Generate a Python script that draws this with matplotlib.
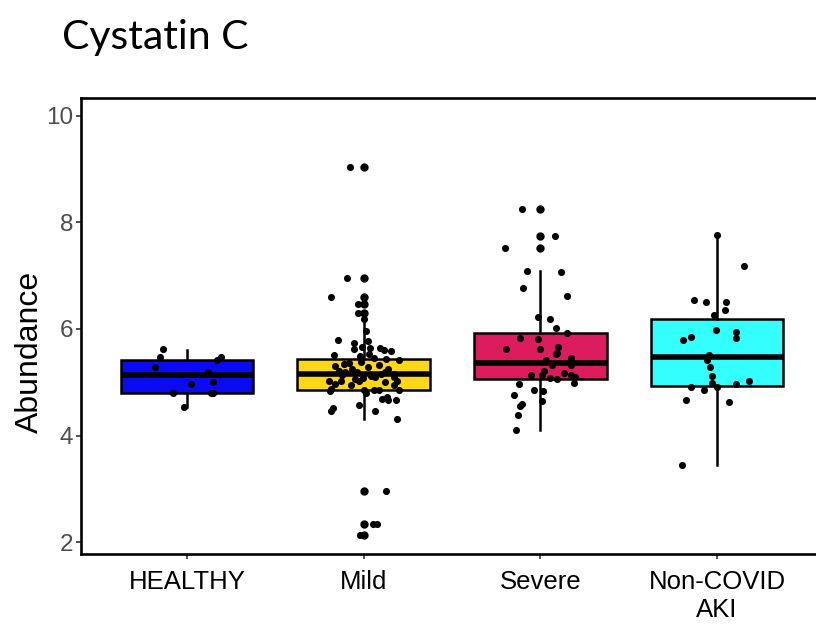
import matplotlib
matplotlib.use("Agg")
import matplotlib.pyplot as plt

# ---- data -------------------------------------------------------------
groups = ["HEALTHY", "Mild", "Severe", "Non-COVID\nAKI"]
colors = ["#0A0AF5", "#FFD814", "#DC1C5E", "#33FFFF"]

# box summaries: lower hinge, median, upper hinge, whisker ends
q1 = [4.79, 4.86, 5.06, 4.93]
median = [5.13, 5.16, 5.36, 5.47]
q3 = [5.41, 5.44, 5.93, 6.19]
whisker_low = [4.53, 4.31, 4.11, 3.44]
whisker_high = [5.61, 6.19, 7.09, 7.76]
outliers = [
    [],
    [9.04, 6.95, 6.60, 6.46, 6.29, 2.97, 2.35, 2.14],
    [8.24, 7.74, 7.51],
    [],
]

# individual samples per group
healthy_vals = [5.62, 5.47, 5.28, 5.47, 5.41, 5.20, 5.00, 4.96, 4.79, 4.79, 4.80, 4.53]
mild_vals = [9.04, 6.95, 6.60, 6.46, 6.29, 6.19, 5.97, 5.80, 5.78, 5.74, 5.63, 5.66,
             5.64, 5.64, 5.61, 5.58, 5.52, 5.49, 5.53, 5.44, 5.42, 5.38, 5.37, 5.31,
             5.33, 5.25, 5.28, 5.22, 5.19, 5.19, 5.19, 5.16, 5.13, 5.06, 5.09, 5.09,
             5.03, 5.02, 5.02, 5.00, 4.97, 4.94, 5.03, 4.94, 4.88, 4.83, 4.86, 4.79,
             4.86, 4.86, 4.85, 4.69, 4.73, 4.67, 4.66, 4.58, 4.46, 4.52, 4.47, 4.31,
             5.12, 5.35, 5.24, 5.08, 5.45, 5.15,
             2.97, 2.35, 2.34, 2.14]
severe_vals = [8.24, 7.74, 7.51, 7.09, 7.07, 6.77, 6.61, 6.22, 6.18, 6.02, 5.92, 5.83,
               5.81, 5.62, 5.62, 5.67, 5.55, 5.53, 5.41, 5.46, 5.33, 5.32, 5.22, 5.14,
               5.13, 5.08, 5.06, 5.18, 5.14, 5.09, 4.99, 4.96, 4.86, 4.84, 4.76, 4.60,
               4.56, 4.64, 4.39, 4.11]
noncovid_vals = [7.76, 7.18, 6.55, 6.50, 6.50, 6.35, 6.27, 5.98, 5.94, 5.83, 5.84, 5.80,
                 5.52, 5.41, 5.28, 5.11, 4.99, 5.03, 4.97, 4.91, 4.86, 4.91, 4.66, 4.63,
                 3.44]
values = [healthy_vals, mild_vals, severe_vals, noncovid_vals]

# horizontal jitter of each sample (category units)
healthy_jit = [-0.137, -0.153, -0.181, 0.192, 0.168, 0.119, 0.147, 0.021, -0.079, 0.147,
               0.136, -0.017]
mild_jit = [-0.075, -0.094, -0.184, -0.032, -0.032, 0.0, 0.015, -0.145, 0.023, -0.053,
            -0.053, -0.011, 0.034, 0.090, 0.113, 0.156, -0.169, -0.019, 0.028, 0.127,
            0.202, -0.013, -0.085, -0.160, 0.089, -0.066, 0.023, -0.141, -0.103, -0.037,
            0.119, 0.169, -0.122, -0.047, 0.062, 0.169, 0.189, -0.198, -0.126, 0.119,
            -0.160, -0.069, -0.028, 0.169, -0.184, -0.188, 0.198, 0.015, 0.060, 0.085,
            0.004, 0.104, 0.132, 0.136, 0.183, -0.028, 0.064, -0.175, -0.186, 0.186,
            0.040, -0.110, 0.140, -0.005, 0.060, 0.100,
            0.128, 0.053, 0.076, -0.023]
severe_jit = [-0.106, 0.081, -0.200, -0.078, 0.116, -0.097, 0.149, -0.016, 0.054, 0.088,
              0.149, -0.116, -0.016, -0.193, 0.0, 0.098, 0.092, 0.086, 0.031, 0.176,
              0.066, 0.172, 0.020, -0.052, 0.012, 0.054, 0.096, 0.134, 0.176, 0.199,
              0.191, -0.119, -0.035, 0.014, -0.148, -0.106, -0.115, 0.007, -0.129, -0.140]
noncovid_jit = [0.0, 0.154, -0.128, -0.064, 0.049, 0.045, -0.015, -0.006, 0.106, 0.106,
                -0.147, -0.190, -0.047, -0.055, -0.041, -0.028, -0.028, 0.182, 0.110,
                -0.148, -0.072, 0.0, -0.173, 0.066, -0.200]
jitter = [healthy_jit, mild_jit, severe_jit, noncovid_jit]

# ---- figure -----------------------------------------------------------
fig = plt.figure(figsize=(8.16, 6.26), dpi=100)
ax = fig.add_axes([81 / 816, 72 / 626, 742 / 816, 456 / 626])

positions = list(range(1, len(groups) + 1))
stats = [
    dict(med=m, q1=a, q3=b, whislo=lo, whishi=hi, fliers=f)
    for m, a, b, lo, hi, f in zip(median, q1, q3, whisker_low, whisker_high, outliers)
]
bp = ax.bxp(
    stats, positions=positions, widths=0.75, patch_artist=True, showcaps=False,
    boxprops=dict(linewidth=1.8, edgecolor="black"),
    medianprops=dict(linewidth=4.0, color="black", solid_capstyle="butt"),
    whiskerprops=dict(linewidth=1.8, color="black"),
    flierprops=dict(marker="o", markersize=5, markerfacecolor="black",
                    markeredgecolor="black", linestyle="none"),
    zorder=2,
)
for patch, c in zip(bp["boxes"], colors):
    patch.set_facecolor(c)

for pos, vals, jit in zip(positions, values, jitter):
    ax.scatter([pos + j for j in jit], vals, s=26, color="black", zorder=4,
               linewidths=0)

ax.set_xlim(0.4, 4.6)
ax.set_ylim(1.78, 10.33)
ax.set_yticks([2, 4, 6, 8, 10])
ax.set_xticks(positions)
ax.set_xticklabels(groups, fontsize=18.5, family="Liberation Sans", color="black",
                   linespacing=1.22)
for lbl in ax.get_yticklabels():
    lbl.set_family("Liberation Sans")
ax.tick_params(axis="y", labelsize=17.5, labelcolor="#4D4D4D", length=3.5, width=1.2,
               color="#333333", pad=2)
ax.tick_params(axis="x", length=3.5, width=1.2, color="#333333", pad=8)
for s in ax.spines.values():
    s.set_linewidth(1.9)
    s.set_color("black")

ax.set_ylabel("Abundance", fontsize=23, family="Liberation Sans")
ax.yaxis.set_label_coords(-0.048, 0.444)

fig.text(62 / 816, 1 - 37 / 626, "Cystatin C", fontsize=29.5, family="Lato",
         ha="left", va="center")

fig.savefig("out.png", dpi=100)
